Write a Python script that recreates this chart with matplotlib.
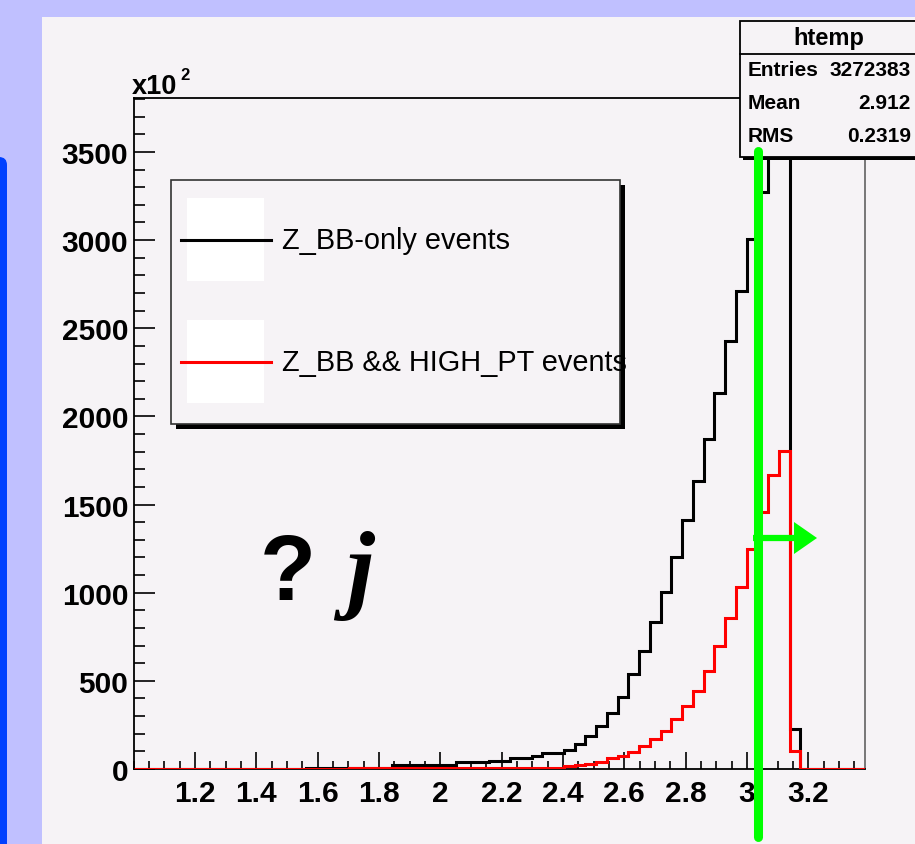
import numpy as np
import matplotlib.pyplot as plt
from matplotlib.patches import Rectangle, FancyBboxPatch, Polygon
from matplotlib.ticker import MultipleLocator

# histogram binning (htemp)
x_min, x_max, n_bins = 1.0, 3.385, 68
bin_edges = np.linspace(x_min, x_max, n_bins + 1)

# bin contents in units of 10^2
zbb_only = [0] * 16 + [8] * 8 + [25] * 6 + [38] * 3 + [47] * 2 + [61] * 2 + [
    75, 91, 91, 108, 140, 188, 243, 317, 409, 538, 672, 832, 1006, 1204,
    1412, 1633, 1874, 2135, 2429, 2714, 3007, 3271, 4100, 4100, 226,
    0, 0, 0, 0, 0, 0]
zbb_highpt = [0] * 20 + [4] * 20 + [
    15, 20, 30, 38, 61, 75, 95, 132, 170, 217, 284, 359, 444, 558, 696,
    855, 1031, 1248, 1457, 1665, 1806, 104, 0, 0, 0, 0, 0, 0]

legend_labels = ["Z_BB-only events", "Z_BB && HIGH_PT events"]
line_colors = ["black", "red"]

xtick_vals = [1.2, 1.4, 1.6, 1.8, 2.0, 2.2, 2.4, 2.6, 2.8, 3.0, 3.2]
xtick_labels = ["1.2", "1.4", "1.6", "1.8", "2", "2.2", "2.4", "2.6", "2.8", "3", "3.2"]
ytick_vals = [0, 500, 1000, 1500, 2000, 2500, 3000, 3500]
y_max = 3806

stats_title = "htemp"
stats_rows = [("Entries", "3272383"), ("Mean", "2.912"), ("RMS", "0.2319")]

W, H = 915, 845
panel = "#f6f3f6"
font = "Liberation Sans"

fig = plt.figure(figsize=(W / 100, H / 100), dpi=100)
fig.patch.set_facecolor("#c0c0ff")

# background: canvas panel + blue side bar
bg = fig.add_axes([0, 0, 1, 1], zorder=0)
bg.set_xlim(0, W)
bg.set_ylim(H, 0)
bg.axis("off")
bg.add_patch(Rectangle((42, 18), W - 42, H - 18, facecolor=panel, edgecolor="none"))
bg.add_patch(FancyBboxPatch((-20, 158), 27, 720, boxstyle="round,pad=0,rounding_size=8",
                            facecolor="#0040ff", edgecolor="none"))

# data axes
L, R, T, B = 133.7, 865, 99, 770
ax = fig.add_axes([L / W, 1 - B / H, (R - L) / W, (B - T) / H], zorder=1)
ax.set_facecolor("none")
ax.stairs(zbb_only, bin_edges, color=line_colors[0], lw=2.2, zorder=2)
ax.stairs(zbb_highpt, bin_edges, color=line_colors[1], lw=2.2, zorder=3)
ax.set_xlim(x_min, x_max)
ax.set_ylim(0, y_max)

ax.set_xticks(xtick_vals)
ax.set_xticklabels(xtick_labels)
ax.set_yticks(ytick_vals)
ax.set_yticklabels([str(v) for v in ytick_vals])
ax.xaxis.set_minor_locator(MultipleLocator(0.05))
ax.yaxis.set_minor_locator(MultipleLocator(100))
ax.tick_params(axis="x", which="major", direction="in", length=12, width=1.2, pad=7)
ax.tick_params(axis="x", which="minor", direction="in", length=6, width=1.2)
ax.tick_params(axis="y", which="major", direction="in", length=15, width=1.2, pad=4)
ax.tick_params(axis="y", which="minor", direction="in", length=8, width=1.2)
for lab in ax.get_xticklabels() + ax.get_yticklabels():
    lab.set_fontfamily(font)
    lab.set_fontweight("bold")
    lab.set_fontsize(21.5)
for s in ["left", "bottom", "top"]:
    ax.spines[s].set_linewidth(1.3)
ax.spines["right"].set_linewidth(1.1)
ax.spines["right"].set_color("#555555")

# overlay: legend, stats box, labels, green cut marker
ov = fig.add_axes([0, 0, 1, 1], zorder=5)
ov.set_xlim(0, W)
ov.set_ylim(H, 0)
ov.axis("off")
ov.set_facecolor("none")

ov.text(132, 94, "x10", fontfamily=font, fontweight="bold", fontsize=19.5, va="baseline")
ov.text(180, 80, "2", fontfamily=font, fontweight="bold", fontsize=12, va="baseline")

# legend
ov.add_patch(Rectangle((176, 186), 449, 244, facecolor="black", edgecolor="none"))
ov.add_patch(Rectangle((171, 181), 449, 244, facecolor=panel, edgecolor="#333333", lw=1.2))
for i, (lab, col) in enumerate(zip(legend_labels, line_colors)):
    yc = 241 + i * 122
    ov.add_patch(Rectangle((187, yc - 42), 77, 83, facecolor="white", edgecolor="none"))
    ov.plot([181, 271], [yc, yc], color=col, lw=2.2)
    ov.text(282, yc, lab, fontfamily=font, fontsize=20.8, va="center", ha="left")

# stats box
ov.add_patch(Rectangle((743, 25), 200, 136, facecolor="black", edgecolor="none"))
ov.add_patch(Rectangle((740, 22), 200, 136, facecolor=panel, edgecolor="black", lw=1.3))
ov.plot([740, 940], [55, 55], color="black", lw=1.3)
ov.text(829, 39, stats_title, fontfamily=font, fontweight="bold", fontsize=17,
        ha="center", va="center")
for i, (k, v) in enumerate(stats_rows):
    yc = 71 + i * 32.5
    ov.text(748, yc, k, fontfamily=font, fontweight="bold", fontsize=15, va="center")
    ov.text(911, yc, v, fontfamily=font, fontweight="bold", fontsize=15, va="center",
            ha="right")

# big symbol text
ov.text(288, 600, "?", fontfamily=font, fontweight="bold", fontsize=66,
        ha="center", va="baseline")
ov.text(360, 600, "j", fontfamily="Liberation Serif", fontweight="bold",
        fontstyle="italic", fontsize=72, ha="center", va="baseline")

# green cut line + arrow
ov.plot([758, 758], [152, 838], color="#00ff00", lw=6.5, solid_capstyle="round")
ov.plot([753, 797], [539, 539], color="#00ff00", lw=4.5, solid_capstyle="butt")
ov.add_patch(Polygon([(794, 523), (817, 539), (794, 555)], closed=True,
                     facecolor="#00ff00", edgecolor="none"))

fig.savefig("out.png", dpi=100, facecolor=fig.get_facecolor())
